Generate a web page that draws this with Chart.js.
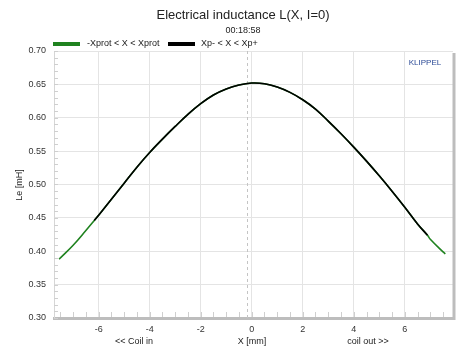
<!DOCTYPE html>
<html>
<head>
<meta charset="utf-8">
<script src="https://cdn.jsdelivr.net/npm/chart.js@4"></script>
<style>
  body { margin: 0; background: #fff; }
  canvas { display: block; }
</style>
</head>
<body>
<canvas id="leChart" width="474" height="355"></canvas>
<script>
const xValues = [-7.55, -7.5, -7, -6.5, -6.17, -6, -5.5, -5, -4.5, -4, -3.5, -3, -2.5, -2, -1.5, -1, -0.5,
  0, 0.5, 1, 1.5, 2, 2.5, 3, 3.5, 4, 4.5, 5, 5.5, 6, 6.5, 6.89, 7, 7.5, 7.59];
const leValues = [0.388, 0.390, 0.409, 0.431, 0.446, 0.454, 0.478, 0.502, 0.526, 0.548, 0.568, 0.587, 0.605, 0.621, 0.634, 0.643, 0.649,
  0.652, 0.651, 0.646, 0.638, 0.627, 0.613, 0.595, 0.576, 0.556, 0.535, 0.513, 0.490, 0.466, 0.441, 0.424, 0.418, 0.399, 0.396];
const xpMin = -6.17;
const xpMax = 6.89;
const xTicks = [-6, -4, -2, 0, 2, 4, 6];
const restPosition = -0.2;

const seriesNames = ["-Xprot < X < Xprot", "Xp- < X < Xp+"];
const seriesColors = ["#1f821f", "#000000"];

const fullCurve = xValues.map((x, i) => ({ x: x, y: leValues[i] }));
const innerCurve = fullCurve.filter(p => p.x >= xpMin && p.x <= xpMax);

const FONT = "'Liberation Sans', Arial, sans-serif";

// header texts, legend, axis captions, minor ticks, frame
const decorations = {
  id: 'decorations',
  beforeDatasetsDraw(chart) {
    const ctx = chart.ctx;
    const a = chart.chartArea;
    const xs = chart.scales.x;
    ctx.save();
    // dashed rest position line
    const rx = Math.round(xs.getPixelForValue(restPosition)) + 0.5;
    ctx.strokeStyle = '#c4c4c4';
    ctx.lineWidth = 1;
    ctx.setLineDash([3, 3]);
    ctx.beginPath();
    ctx.moveTo(rx, a.top);
    ctx.lineTo(rx, a.bottom);
    ctx.stroke();
    ctx.restore();
  },
  afterDraw(chart) {
    const ctx = chart.ctx;
    const a = chart.chartArea;
    const xs = chart.scales.x;
    const ys = chart.scales.y;
    ctx.save();

    // minor ticks
    ctx.strokeStyle = '#cfcfcf';
    ctx.lineWidth = 1;
    ctx.beginPath();
    for (let v = 30; v <= 70; v++) {
      const py = Math.round(ys.getPixelForValue(v / 100)) + 0.5;
      ctx.moveTo(a.left, py);
      ctx.lineTo(a.left + 4, py);
    }
    for (let v = -15; v <= 15; v++) {
      const px = Math.round(xs.getPixelForValue(v / 2)) + 0.5;
      ctx.moveTo(px, a.bottom - 6);
      ctx.lineTo(px, a.bottom - 1);
    }
    ctx.stroke();

    // right frame
    ctx.strokeStyle = '#bdbdbd';
    ctx.lineWidth = 3;
    ctx.beginPath();
    ctx.moveTo(a.right + 1, a.top + 2);
    ctx.lineTo(a.right + 1, a.bottom + 2);
    ctx.stroke();

    ctx.fillStyle = '#222';
    ctx.textAlign = 'center';
    ctx.textBaseline = 'middle';
    ctx.font = '13px ' + FONT;
    ctx.fillText('Electrical inductance L(X, I=0)', 243, 15);
    ctx.font = '9px ' + FONT;
    ctx.fillText('00:18:58', 243, 31);

    // legend
    ctx.textAlign = 'left';
    ctx.fillStyle = seriesColors[0];
    ctx.fillRect(53, 42, 27, 4);
    ctx.fillStyle = seriesColors[1];
    ctx.fillRect(168, 42, 27, 4);
    ctx.fillStyle = '#222';
    ctx.fillText(seriesNames[0], 87, 44);
    ctx.fillText(seriesNames[1], 201, 44);

    // axis captions
    ctx.textAlign = 'center';
    ctx.fillText('<< Coil in', 134, 342);
    ctx.fillText('X [mm]', 252, 342);
    ctx.fillText('coil out >>', 368, 342);

    ctx.save();
    ctx.translate(20, 185);
    ctx.rotate(-Math.PI / 2);
    ctx.fillText('Le [mH]', 0, 0);
    ctx.restore();

    ctx.fillStyle = '#2b4a96';
    ctx.font = '8px ' + FONT;
    ctx.fillText('KLIPPEL', 425, 63);
    ctx.restore();
  }
};

new Chart(document.getElementById('leChart'), {
  type: 'line',
  data: {
    datasets: [{
      label: seriesNames[0],
      data: fullCurve,
      order: 1,
      borderColor: seriesColors[0],
      borderWidth: 1.6,
      pointRadius: 0,
      tension: 0.4,
      fill: false
    }, {
      label: seriesNames[1],
      data: innerCurve,
      order: 0,
      borderColor: seriesColors[1],
      borderWidth: 1.6,
      pointRadius: 0,
      tension: 0.4,
      fill: false
    }]
  },
  options: {
    responsive: false,
    animation: false,
    layout: { padding: { top: 51, right: 21, left: 0, bottom: 0 } },
    plugins: {
      legend: { display: false },
      title: { display: false },
      tooltip: { enabled: false }
    },
    scales: {
      x: {
        type: 'linear',
        min: -7.75,
        max: 7.89,
        afterBuildTicks: scale => { scale.ticks = xTicks.map(v => ({ value: v })); },
        afterFit: scale => { scale.height = 37; },
        ticks: {
          color: '#333',
          font: { size: 9, family: FONT },
          padding: 6,
          callback: v => String(v)
        },
        grid: { color: '#e4e4e4', drawTicks: false },
        border: { color: '#bdbdbd', width: 3 }
      },
      y: {
        min: 0.3,
        max: 0.7,
        afterFit: scale => { scale.width = 54; },
        ticks: {
          stepSize: 0.05,
          color: '#333',
          font: { size: 9, family: FONT },
          padding: 8,
          callback: v => v.toFixed(2)
        },
        grid: { color: '#e4e4e4', drawTicks: false },
        border: { color: '#d6d6d6', width: 1 }
      }
    }
  },
  plugins: [decorations]
});
</script>
</body>
</html>
